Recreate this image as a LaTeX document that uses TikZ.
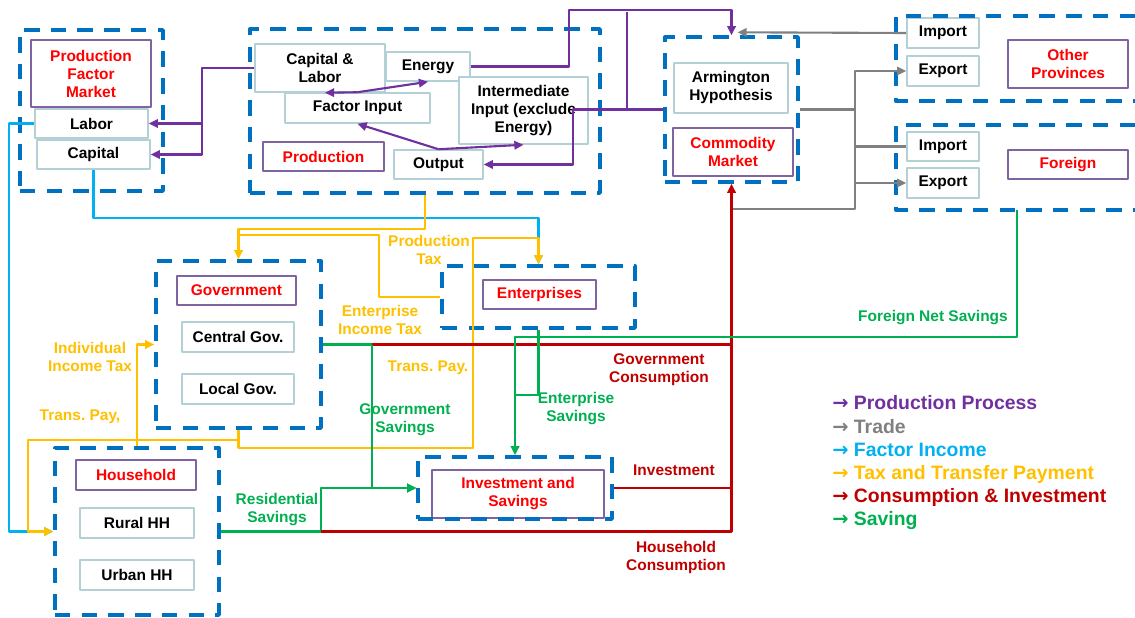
\documentclass[tikz,border=0pt]{standalone}
\usepackage{fontspec}
\setmainfont{Liberation Sans}
\newfontfamily\arrowfont{DejaVu Sans}
\usetikzlibrary{arrows.meta,calc}
\frenchspacing
\definecolor{ppurple}{HTML}{7030A0}
\definecolor{tradegray}{HTML}{808080}
\definecolor{fcyan}{HTML}{00B0F0}
\definecolor{tyellow}{HTML}{FFC000}
\definecolor{cred}{HTML}{C00000}
\definecolor{sgreen}{HTML}{00B050}
\definecolor{grpblue}{HTML}{0070C0}
\definecolor{cellline}{RGB}{178,208,214}
\definecolor{titleline}{HTML}{8064A2}
\newcommand\cellfont{\fontsize{11pt}{12.8pt}\selectfont\bfseries}
\newcommand\legfont{\fontsize{13.8pt}{16pt}\selectfont\bfseries}
\tikzset{
  sz/.style 2 args={minimum width=#1*0.025cm, minimum height=#2*0.025cm},
  grp/.style={draw=grpblue, line width=2.4pt, dash pattern=on 11pt off 8pt, inner sep=0pt},
  cell/.style={draw=cellline, line width=1.1pt, fill=white, inner sep=0pt, align=center, font=\cellfont},
  headbox/.style={cell, draw=titleline, text=red},
  flow/.style={line width=1.5pt},
  prodline/.style={flow, draw=ppurple},
  tradeline/.style={flow, draw=tradegray},
  incline/.style={flow, draw=fcyan},
  taxline/.style={flow, draw=tyellow},
  consline/.style={flow, draw=cred},
  saveline/.style={flow, draw=sgreen},
  lbl/.style={align=center, font=\cellfont, inner sep=0pt},
  leg/.style={anchor=west, font=\legfont, inner sep=0pt}
}
\begin{document}
\begin{tikzpicture}[x=0.025cm, y=-0.025cm, >={Triangle[length=6.5pt,width=6pt]}, line join=round]
\useasboundingbox (0,0) rectangle (1135,617);
% boxes
\node[headbox, sz={120}{67}] (pfm) at (91,73.5) {Production\\Factor\\Market};
\node[cell, sz={113}{29}] (labor) at (91.5,123.5) {Labor};
\node[cell, sz={113}{29}] (capital) at (93.5,154.5) {Capital};
\node[cell, sz={130}{48}] (caplab) at (320,68) {Capital \&\\Labor};
\node[cell, sz={84}{29}] (energy) at (428,66.5) {Energy};
\node[cell, sz={145}{30}] (finput) at (357.5,108) {Factor Input};
\node[cell, sz={129}{67}] (interm) at (523.5,110.5) {Intermediate\\Input (exclude\\Energy)};
\node[headbox, sz={121}{29}] (prod) at (323.5,156.5) {Production};
\node[cell, sz={89}{29}] (output) at (438.5,164.5) {Output};
\node[cell, sz={114}{50}] (arm) at (731,88) {Armington\\Hypothesis};
\node[headbox, sz={120}{48}] (cmkt) at (733,152) {Commodity\\Market};
\node[cell, sz={72}{30}] (impP) at (943,33) {Import};
\node[cell, sz={72}{30}] (expP) at (943,71) {Export};
\node[headbox, sz={120}{48}] (oprov) at (1068,64) {Other\\Provinces};
\node[cell, sz={72}{29}] (impF) at (943,146.5) {Import};
\node[cell, sz={72}{30}] (expF) at (943,183) {Export};
\node[headbox, sz={120}{29}] (foreign) at (1068,164.5) {Foreign};
\node[headbox, sz={119}{29}] (gov) at (236.5,290.5) {Government};
\node[cell, sz={112}{30}] (central) at (238,337) {Central Gov.};
\node[cell, sz={112}{30}] (local) at (238,389) {Local Gov.};
\node[headbox, sz={113}{29}] (ent) at (539.5,294.5) {Enterprises};
\node[headbox, sz={120}{30}] (hh) at (136,475) {Household};
\node[cell, sz={114}{30}] (rural) at (137,523) {Rural HH};
\node[cell, sz={114}{30}] (urban) at (137,575) {Urban HH};
\node[headbox, sz={172}{48}] (inv) at (518,494) {Investment and\\Savings};
% dashed groups
\node[grp, sz={143}{161}] (grpfac) at (91.5,110.5) {};
\node[grp, sz={350}{164}] (grpprod) at (425,111) {};
\node[grp, sz={133}{145}] (grpcom) at (731.5,109.5) {};
\node[grp, sz={165}{167}] (grpgov) at (238.5,344.5) {};
\node[grp, sz={193}{62}] (grpent) at (538.5,297) {};
\node[grp, sz={164}{167}] (grphh) at (137,531.5) {};
\node[grp, sz={194}{62}] (grpinv) at (515,488) {};
\draw[grp] (1135,16) -| (896,101) -- (1135,101);
\draw[grp] (1135,125) -| (896,210) -- (1135,210);
% production process
\draw[prodline,->] (caplab.west) -- ++(-52,0) coordinate (fj) |- (labor.east);
\draw[prodline,->] (fj) |- (capital.east);
\draw[prodline,->] (finput.north) -- ($(caplab.south)+(5,0)$);
\draw[prodline,->] (finput.north) -- (energy.south);
\draw[prodline,->] (output.north) -- (finput.south);
\draw[prodline,->] (output.north) -- (interm.south);
\draw[prodline,->] (energy.east) -- ++(98,0) |- ($(grpcom.north)+(0,-25)$) -- (grpcom.north);
\coordinate (cj) at (627,12);
\draw[prodline] (cj) -- (cj |- grpcom.west);
\draw[prodline,->] (grpcom.west) -- ++(-90,0) |- (output.east);
% trade
\draw[tradeline,->] (impP.west) -- ($(grpcom.north)+(6,-3)$);
\draw[tradeline] (grpcom.east) -- ++(55,0) coordinate (tj);
\draw[tradeline,->] (tj) |- (expP.west);
\draw[tradeline] (tj) |- (impF.west);
\draw[tradeline,->] (tj) |- (expF.west);
\draw[tradeline] (tj) |- ($(grpcom.south)+(0,25)$);
% factor income
\draw[incline,->] (labor.west) -- ++(-25,0) |- (grphh.west);
\draw[incline,->] (capital.south) -- ++(0,48) -| (grpent.north);
% tax and transfer payment
\draw[taxline,->] (grpprod.south) -- ++(0,34) -| (grpgov.north);
\draw[taxline] (grpent.west) -- ++(-61,0) |- ($(grpgov.north)+(0,-24)$);
\draw[taxline,->] (grpgov.south) -- ++(0,18) -- ++(234.5,0) |- ($(grpent.north)+(0,-26)$) -- (grpent.north);
\draw[taxline,->] (grpgov.south) -- ++(0,10) -| ($(grphh.west)+(-25,0)$) -- (grphh.west);
\draw[taxline,->] (grphh.north) |- (grpgov.west);
% consumption, investment and saving
\draw[saveline] (grpgov.east) -- ++(49,0) coordinate (gj);
\draw[consline] (gj) -- (gj -| grpcom.south);
\draw[saveline,->] (gj) |- (grpinv.west);
\draw[saveline,->] (grphh.east) -- ++(100,0) coordinate (hj) |- (grpinv.west);
\draw[consline,->] (hj) -| (grpcom.south);
\draw[consline] (grpinv.east) -- (grpinv.east -| grpcom.south);
\coordinate (fj2) at (1017,210);
\draw[saveline,->] (fj2) -- ++(0,127) -| (grpinv.north);
\draw[saveline] (grpent.south) -- ++(0,65) -- ++(-23,0);
% flow labels
\node[lbl, text=tyellow] (ptax) at (429,250) {Production\\Tax};
\node[lbl, text=tyellow] (etax) at (380,320) {Enterprise\\Income Tax};
\node[lbl, text=tyellow] (tpent) at (428,368) {Trans. Pay.};
\node[lbl, text=tyellow] (itax) at (90,357) {Individual\\Income Tax};
\node[lbl, text=tyellow] (tphh) at (80,417) {Trans. Pay,};
\node[lbl, text=sgreen] (gsav) at (405,420) {Government\\Savings};
\node[lbl, text=sgreen] (esav) at (576,409) {Enterprise\\Savings};
\node[lbl, text=cred] (gcons) at (659,370) {Government\\Consumption};
\node[lbl, text=sgreen] (rsav) at (277,510) {Residential\\Savings};
\node[lbl, text=cred] (invl) at (674,470) {Investment};
\node[lbl, text=cred] (hcons) at (676,557) {Household\\Consumption};
\node[lbl, text=sgreen] (fsav) at (933,318) {Foreign Net Savings};
% legend
\node[leg, text=ppurple] (lgprod) at (832,403) {{\arrowfont →} Production Process};
\node[leg, text=tradegray] (lgtrade) at (832,427) {{\arrowfont →} Trade};
\node[leg, text=fcyan] (lginc) at (832,450) {{\arrowfont →} Factor Income};
\node[leg, text=tyellow] (lgtax) at (832,474) {{\arrowfont →} Tax and Transfer Payment};
\node[leg, text=cred] (lgcons) at (832,497) {{\arrowfont →} Consumption \& Investment};
\node[leg, text=sgreen] (lgsave) at (832,521) {{\arrowfont →} Saving};
\end{tikzpicture}
\end{document}
